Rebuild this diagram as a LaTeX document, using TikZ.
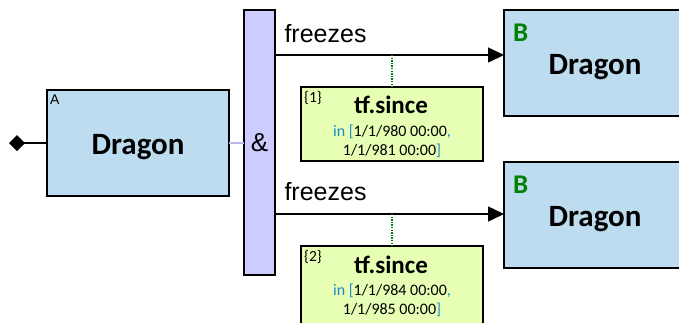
\documentclass[tikz,border=0pt]{standalone}
\usepackage{fontspec}
\setmainfont{Carlito}
\newfontfamily\arialf{Liberation Sans}
\usetikzlibrary{arrows.meta,shapes.geometric}
\definecolor{boxblue}{RGB}{189,220,240}
\definecolor{limeg}{RGB}{230,255,180}
\definecolor{barlav}{RGB}{204,204,255}
\definecolor{linklav}{RGB}{185,185,240}
\definecolor{inblue}{RGB}{30,136,200}
\definecolor{bgreen}{RGB}{0,128,0}
\tikzset{
  dragonbox/.style={draw=black,line width=2pt,fill=boxblue},
  tfbox/.style={draw=black,line width=2pt,fill=limeg},
  barbox/.style={draw=black,line width=2pt,fill=barlav},
  flow/.style={line width=1.5pt,-{Triangle[length=16pt,width=15pt]}},
  dotg/.style={draw=bgreen,line width=1.3pt,dash pattern=on 1.3pt off 1.3pt},
  bigtxt/.style={font=\fontsize{31}{33}\selectfont\bfseries,anchor=base},
  tftxt/.style={font=\fontsize{25}{27}\selectfont\bfseries,anchor=base},
  smalltxt/.style={font=\fontsize{16}{19}\selectfont,align=center},
  lbltxt/.style={font=\arialf\fontsize{25}{28}\selectfont},
  tagtxt/.style={font=\fontsize{15.5}{17}\selectfont,anchor=base west,inner sep=0pt},
  btxt/.style={font=\fontsize{27}{29}\selectfont\bfseries,text=bgreen,anchor=base west,inner sep=0pt}
}
\begin{document}
\begin{tikzpicture}[x=1pt,y=-1pt]
\useasboundingbox (0,0) rectangle (679,322);
\begin{scope}
\clip (0,0) rectangle (679,322);
% box A
\draw[dragonbox] (47,90) rectangle (229,196);
\node[bigtxt] (dA) at (138,154) {Dragon};
\node[font=\arialf\fontsize{14}{16}\selectfont,anchor=base west,inner sep=0pt] (tagA) at (50,104) {A};
\coordinate (Aw) at (47,143);
\coordinate (dia) at (9,143);
\draw[line width=1.5pt,{Diamond[length=16pt,width=16pt]}-] (dia) -- (Aw);
% bar
\draw[barbox] (244,10) rectangle (275,275);
\coordinate (Ae) at (229,143);
\coordinate (barw) at (244,143);
\draw[linklav,line width=1.5pt] (Ae) -- (barw);
\node[font=\arialf\fontsize{26}{28}\selectfont] (amp) at (259.5,143) {\&};
% B boxes
\draw[dragonbox] (504,10) rectangle (690,116);
\node[bigtxt] (dB1) at (595,74) {Dragon};
\node[btxt] (b1) at (513,41) {B};
\draw[dragonbox] (504,162) rectangle (690,268);
\node[bigtxt] (dB2) at (595,226) {Dragon};
\node[btxt] (b2) at (513,193) {B};
% arrows
\coordinate (s1) at (275,55);
\coordinate (e1) at (504,55);
\draw[flow] (s1) -- (e1);
\node[lbltxt,anchor=base west] (f1) at (281,42) {freezes};
\coordinate (s2) at (275,214);
\coordinate (e2) at (504,214);
\draw[flow] (s2) -- (e2);
\node[lbltxt,anchor=base west] (f2) at (281,200) {freezes};
% tf boxes
\draw[tfbox] (301,87) rectangle (483,161);
\node[tagtxt] (t1) at (304,102) {\{1\}};
\node[tftxt] (tf1) at (391,113) {tf.since};
\node[smalltxt] (r1) at (392,141) {\textcolor{inblue}{in [}1/1/980 00:00\textcolor{inblue}{,}\\1/1/981 00:00\textcolor{inblue}{]}};
\coordinate (d1a) at (392,55);
\coordinate (d1b) at (392,87);
\draw[dotg] (d1a) -- (d1b);
\draw[tfbox] (301,246) rectangle (483,330);
\node[tagtxt] (t2) at (304,261) {\{2\}};
\node[tftxt] (tf2) at (391,273) {tf.since};
\node[smalltxt] (r2) at (392,300) {\textcolor{inblue}{in [}1/1/984 00:00\textcolor{inblue}{,}\\1/1/985 00:00\textcolor{inblue}{]}};
\coordinate (d2a) at (392,214);
\coordinate (d2b) at (392,246);
\draw[dotg] (d2a) -- (d2b);
\end{scope}
\end{tikzpicture}
\end{document}
